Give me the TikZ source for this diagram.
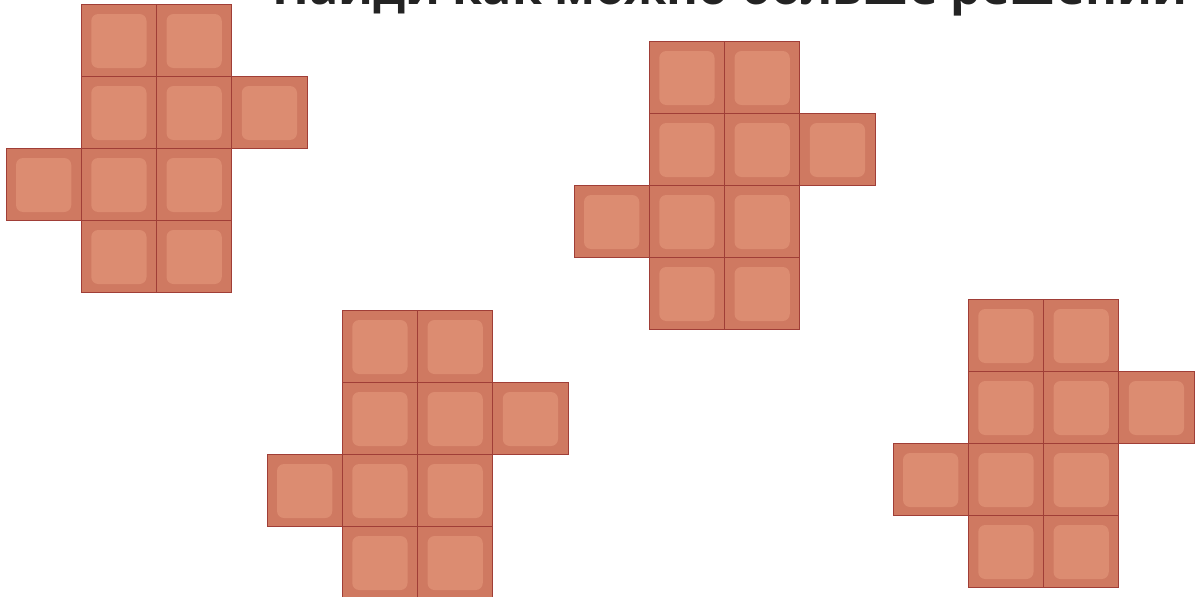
\documentclass[tikz,border=0pt]{standalone}
\usepackage{fontspec}
\setmainfont{Open Sans}
\definecolor{tileouter}{RGB}{207,121,97}
\definecolor{tileinner}{RGB}{220,140,113}
\definecolor{tileedge}{RGB}{160,62,55}
\definecolor{titlecol}{RGB}{35,35,35}
\newlength\titlewd
\tikzset{
  tileout/.style={fill=tileouter},
  tileborder/.style={draw=tileedge, line width=1pt},
  tilein/.style={fill=tileinner, rounded corners=7pt},
  titlestyle/.style={anchor=base west, inner sep=0pt, text=titlecol},
}
\begin{document}
\settowidth{\titlewd}{\fontsize{10}{12}\selectfont\bfseries Найди как можно больше решений}%
\pgfmathsetmacro\fs{915/\titlewd*10}%
\begin{tikzpicture}[x=1pt,y=-1pt]
\useasboundingbox (0,0) rectangle (1197,597);
\node[titlestyle, font=\bfseries\fontsize{\fs}{\fs}\selectfont] (title) at (272,5) {Найди как можно больше решений};
\foreach \fx/\fy in {6/4, 574/41, 267/310, 893/299} {
  \foreach \c/\r in {1/0,2/0,1/1,2/1,3/1,0/2,1/2,2/2,1/3,2/3} {
    \pgfmathsetmacro\xa{\fx+\c*75.25}
    \pgfmathsetmacro\ya{\fy+\r*72}
    \fill[tileout] (\xa,\ya) rectangle ++(75.25,72);
    \fill[tilein] (\xa+10,\ya+10) rectangle ++(55.25,54);
  }
  \foreach \c/\r in {1/0,2/0,1/1,2/1,3/1,0/2,1/2,2/2,1/3,2/3} {
    \pgfmathsetmacro\xa{\fx+\c*75.25}
    \pgfmathsetmacro\ya{\fy+\r*72}
    \draw[tileborder] (\xa,\ya) rectangle ++(75.25,72);
  }
}
\end{tikzpicture}
\end{document}
